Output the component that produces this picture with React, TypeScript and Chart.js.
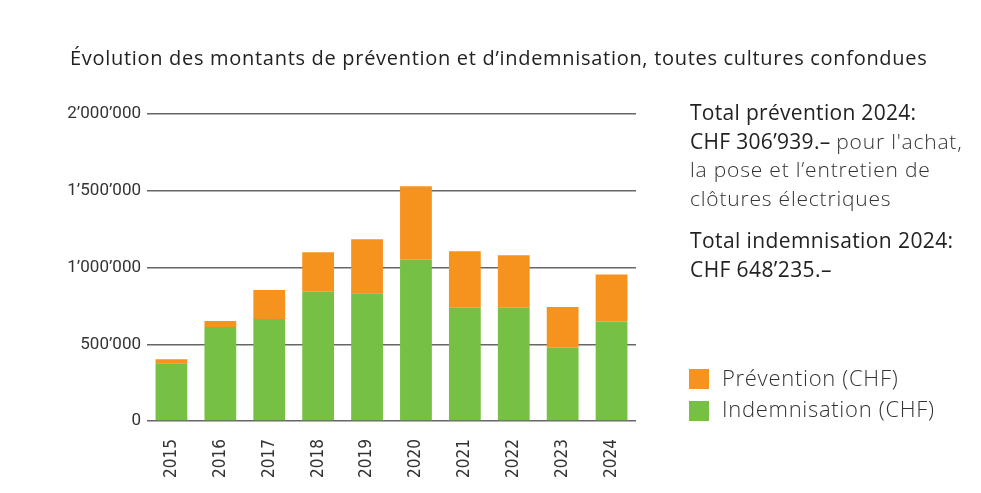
import React, { useEffect, useRef } from "react";
import { Chart, registerables } from "chart.js";

Chart.register(...registerables);

const years = ["2015", "2016", "2017", "2018", "2019", "2020", "2021", "2022", "2023", "2024"];
const indemnisation = [377000, 612000, 664000, 842000, 833000, 1050000, 737000, 737000, 477000, 648235];
const prevention = [26000, 39000, 189000, 258000, 351000, 479000, 369000, 343000, 265000, 306939];
const yTickValues = [0, 500000, 1000000, 1500000, 2000000];
const yTickLabels = ["0", "500’000", "1’000’000", "1’500’000", "2’000’000"];

const ORANGE = "#F6921E";
const GREEN = "#76C043";
const FONT = "'Open Sans', Roboto, sans-serif";
const YFONT = "Roboto, sans-serif";
const XFONT = "'DejaVu Sans Condensed', Roboto, sans-serif";

export default function App() {
  const ref = useRef<HTMLCanvasElement | null>(null);

  useEffect(() => {
    if (!ref.current) return;
    const chart = new Chart(ref.current, {
      type: "bar",
      data: {
        labels: years,
        datasets: [
          { label: "Indemnisation (CHF)", data: indemnisation, backgroundColor: GREEN, stack: "s", barPercentage: 0.65, categoryPercentage: 1 },
          { label: "Prévention (CHF)", data: prevention, backgroundColor: ORANGE, stack: "s", barPercentage: 0.65, categoryPercentage: 1 },
        ],
      },
      options: {
        animation: false,
        responsive: false,
        maintainAspectRatio: false,
        layout: { padding: { left: 0, right: 345, top: 114, bottom: 0 } },
        plugins: { legend: { display: false }, title: { display: false }, tooltip: { enabled: false } },
        scales: {
          x: {
            stacked: true,
            grid: { display: false },
            border: { display: false },
            ticks: { maxRotation: 90, minRotation: 90, padding: 10, color: "#333", font: { family: XFONT, size: 17 } },
            afterFit: (s: any) => { s.height = 72; },
          },
          y: {
            stacked: true,
            min: 0,
            max: 2000000,
            afterBuildTicks: (s: any) => { s.ticks = yTickValues.map((v) => ({ value: v })); },
            grid: { color: "#666", lineWidth: 1.5, drawTicks: false },
            border: { display: false },
            ticks: {
              padding: 6,
              color: "#333",
              font: { family: YFONT, size: 17 },
              callback: (v: any) => { const i = yTickValues.indexOf(Number(v)); return i >= 0 ? yTickLabels[i] : ""; },
            },
            afterFit: (s: any) => { s.width = 147; },
          },
        },
      },
    });
    return () => chart.destroy();
  }, []);

  const base: React.CSSProperties = { position: "absolute", fontFamily: FONT, whiteSpace: "nowrap" };
  const light: React.CSSProperties = { fontWeight: 300, color: "#333", letterSpacing: "0.8px" };

  return (
    <div style={{ position: "absolute", left: 0, top: 0, width: 981, height: 493, background: "#fff", overflow: "hidden" }}>
      <canvas ref={ref} width={981} height={493} style={{ position: "absolute", left: 0, top: 0, width: 981, height: 493 }} />
      <div style={{ ...base, left: 70, top: 44, fontSize: 20, color: "#222", letterSpacing: "0.7px" }}>
        Évolution des montants de prévention et d’indemnisation, toutes cultures confondues
      </div>
      <div style={{ ...base, left: 690, top: 98, fontSize: 21, lineHeight: "28.5px", color: "#222", letterSpacing: "0.3px" }}>
        <div>Total prévention 2024:</div>
        <div><span>CHF 306’939.–</span> <span style={light}>pour l'achat,</span></div>
        <div style={light}>la pose et l’entretien de</div>
        <div style={light}>clôtures électriques</div>
      </div>
      <div style={{ ...base, left: 690, top: 226, fontSize: 21, lineHeight: "28.5px", color: "#222", letterSpacing: "0.4px" }}>
        <div>Total indemnisation 2024:</div>
        <div>CHF 648’235.–</div>
      </div>
      <div style={{ ...base, left: 689, top: 369, width: 20, height: 20, background: ORANGE }} />
      <div style={{ ...base, left: 722, top: 364, fontSize: 22, lineHeight: "26px", color: "#333", fontWeight: 300, letterSpacing: "0.7px" }}>Prévention (CHF)</div>
      <div style={{ ...base, left: 689, top: 401, width: 20, height: 20, background: GREEN }} />
      <div style={{ ...base, left: 722, top: 395, fontSize: 22, lineHeight: "26px", color: "#333", fontWeight: 300, letterSpacing: "0.7px" }}>Indemnisation (CHF)</div>
    </div>
  );
}
